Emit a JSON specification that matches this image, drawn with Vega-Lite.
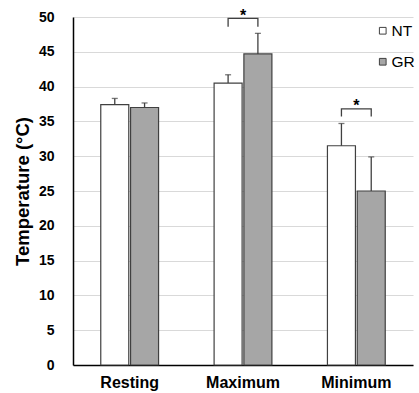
{
  "$schema": "https://vega.github.io/schema/vega-lite/v6.json",
  "width": 340,
  "height": 348,
  "autosize": "none",
  "padding": {"left": 73, "top": 17, "right": 6, "bottom": 28},
  "background": "white",
  "config": {
    "view": {"stroke": null},
    "font": "Liberation Sans",
    "axisY": {
      "title": "Temperature (°C)",
      "titleFont": "Liberation Sans",
      "titleFontSize": 18.5,
      "titleFontWeight": "bold",
      "titleColor": "#000000",
      "titlePadding": 6,
      "labelFont": "Liberation Sans",
      "labelFontSize": 14,
      "labelFontWeight": "bold",
      "labelColor": "#000000",
      "labelPadding": 19,
      "labelOverlap": false,
      "ticks": false,
      "grid": true,
      "gridColor": "#d9d9d9",
      "gridWidth": 1,
      "domainColor": "#000000",
      "domainWidth": 1.5
    }
  },
  "datasets": {
    "bars": [
      {"cond": "Resting", "group": "NT", "mean": 37.4, "upper": 38.3},
      {"cond": "Resting", "group": "GR", "mean": 37.0, "upper": 37.65},
      {"cond": "Maximum", "group": "NT", "mean": 40.5, "upper": 41.7},
      {"cond": "Maximum", "group": "GR", "mean": 44.7, "upper": 47.65},
      {"cond": "Minimum", "group": "NT", "mean": 31.5, "upper": 34.7},
      {"cond": "Minimum", "group": "GR", "mean": 25.0, "upper": 29.9}
    ],
    "brackets": [
      {"cond": "Maximum", "group": "NT", "y": 48.6, "k": 1},
      {"cond": "Maximum", "group": "NT", "y": 49.8, "k": 2},
      {"cond": "Maximum", "group": "GR", "y": 49.8, "k": 3},
      {"cond": "Maximum", "group": "GR", "y": 48.6, "k": 4},
      {"cond": "Minimum", "group": "NT", "y": 35.7, "k": 1},
      {"cond": "Minimum", "group": "NT", "y": 36.8, "k": 2},
      {"cond": "Minimum", "group": "GR", "y": 36.8, "k": 3},
      {"cond": "Minimum", "group": "GR", "y": 35.7, "k": 4}
    ],
    "stars": [
      {"cond": "Maximum", "y": 49.4, "label": "*"},
      {"cond": "Minimum", "y": 36.5, "label": "*"}
    ]
  },
  "encoding": {
    "x": {
      "field": "cond",
      "type": "nominal",
      "scale": {"domain": ["Resting", "Maximum", "Minimum"], "paddingInner": 0.49, "paddingOuter": 0.245},
      "axis": {
        "title": null,
        "labelAngle": 0,
        "labelFont": "Liberation Sans",
        "labelFontWeight": "bold",
        "labelFontSize": 16,
        "labelColor": "#000000",
        "labelPadding": 9,
        "ticks": false,
        "domainColor": "#000000",
        "domainWidth": 1.5
      }
    }
  },
  "layer": [
    {
      "data": {"name": "bars"},
      "mark": {"type": "bar", "stroke": "#404040", "strokeWidth": 1.2},
      "encoding": {
        "xOffset": {"field": "group", "type": "nominal", "scale": {"domain": ["NT", "GR"], "paddingInner": 0.06}},
        "y": {
          "field": "mean",
          "type": "quantitative",
          "scale": {"domain": [0, 50], "nice": false},
          "axis": {"values": [0, 5, 10, 15, 20, 25, 30, 35, 40, 45, 50], "title": "Temperature (°C)"}
        },
        "fill": {
          "field": "group",
          "type": "nominal",
          "scale": {"domain": ["NT", "GR"], "range": ["#ffffff", "#a6a6a6"]},
          "legend": {
            "title": null,
            "orient": "none",
            "legendX": 302,
            "legendY": 6,
            "symbolType": "square",
            "symbolSize": 45,
            "symbolStrokeColor": "#404040",
            "symbolStrokeWidth": 1,
            "labelFont": "Liberation Sans",
            "labelFontSize": 15.5,
            "labelColor": "#000000",
            "labelOffset": 1,
            "rowPadding": 14
          }
        }
      }
    },
    {
      "data": {"name": "bars"},
      "mark": {"type": "rule", "color": "#404040", "strokeWidth": 1.3},
      "encoding": {
        "xOffset": {"field": "group", "type": "nominal"},
        "y": {"field": "mean", "type": "quantitative", "axis": {"values": [0, 5, 10, 15, 20, 25, 30, 35, 40, 45, 50], "title": "Temperature (°C)"}},
        "y2": {"field": "upper"}
      }
    },
    {
      "data": {"name": "bars"},
      "mark": {"type": "tick", "color": "#404040", "size": 6, "thickness": 1.3, "orient": "horizontal"},
      "encoding": {
        "xOffset": {"field": "group", "type": "nominal"},
        "y": {"field": "upper", "type": "quantitative", "axis": {"values": [0, 5, 10, 15, 20, 25, 30, 35, 40, 45, 50], "title": "Temperature (°C)"}}
      }
    },
    {
      "data": {"name": "brackets"},
      "mark": {"type": "line", "color": "#404040", "strokeWidth": 1.3},
      "encoding": {
        "xOffset": {"field": "group", "type": "nominal"},
        "y": {"field": "y", "type": "quantitative", "axis": {"values": [0, 5, 10, 15, 20, 25, 30, 35, 40, 45, 50], "title": "Temperature (°C)"}},
        "detail": {"field": "cond"},
        "order": {"field": "k", "type": "quantitative"}
      }
    },
    {
      "data": {"name": "stars"},
      "mark": {"type": "text", "fontSize": 16, "fontWeight": "bold", "font": "Liberation Sans", "color": "#000000", "baseline": "alphabetic"},
      "encoding": {
        "y": {"field": "y", "type": "quantitative", "axis": {"values": [0, 5, 10, 15, 20, 25, 30, 35, 40, 45, 50], "title": "Temperature (°C)"}},
        "text": {"field": "label"}
      }
    }
  ]
}
